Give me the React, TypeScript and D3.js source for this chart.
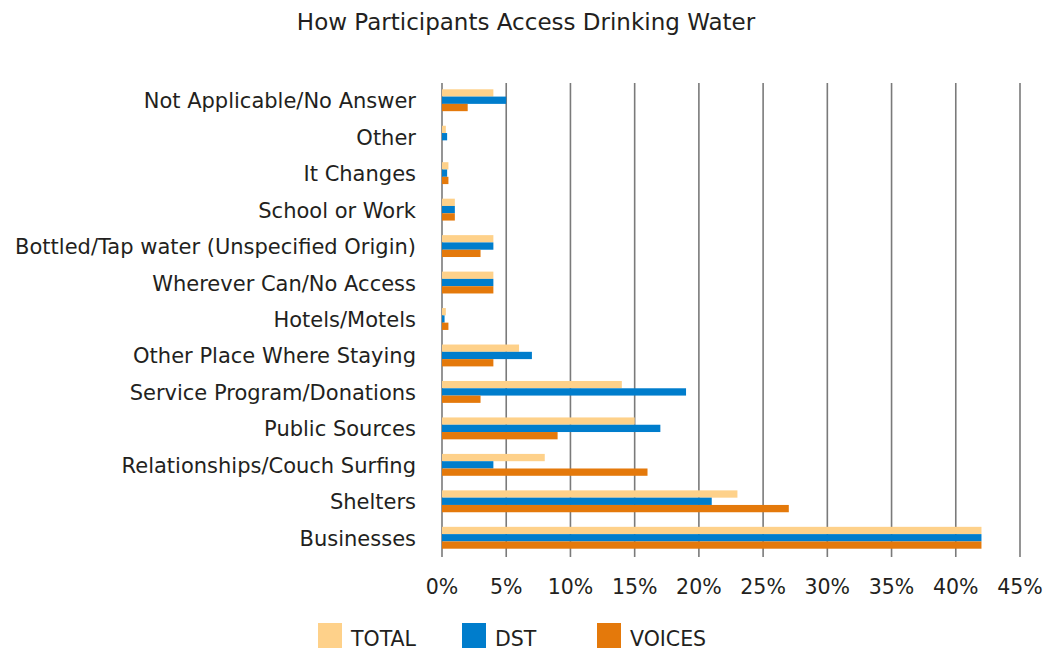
import React from "react";
import * as d3 from "d3";

const categories = [
  "Not Applicable/No Answer",
  "Other",
  "It Changes",
  "School or Work",
  "Bottled/Tap water (Unspecified Origin)",
  "Wherever Can/No Access",
  "Hotels/Motels",
  "Other Place Where Staying",
  "Service Program/Donations",
  "Public Sources",
  "Relationships/Couch Surfing",
  "Shelters",
  "Businesses",
];
const seriesNames = ["TOTAL", "DST", "VOICES"];
const totalValues = [4, 0.3, 0.5, 1, 4, 4, 0.3, 6, 14, 15, 8, 23, 42];
const dstValues = [5, 0.4, 0.4, 1, 4, 4, 0.2, 7, 19, 17, 4, 21, 42];
const voicesValues = [2, 0, 0.5, 1, 3, 4, 0.5, 4, 3, 9, 16, 27, 42];
const tickValues = [0, 5, 10, 15, 20, 25, 30, 35, 40, 45];
const colors = ["#FED18A", "#007DCC", "#E4790B"];

const W = 1045;
const H = 651;
const FONT = "'DejaVu Sans', sans-serif";

export default function App() {
  const seriesValues = [totalValues, dstValues, voicesValues];
  const x = d3.scaleLinear().domain([0, 45]).range([442, 1020]);
  const y = d3.scaleBand<string>().domain(categories).range([82, 556]).paddingInner(0.4).paddingOuter(0.2);
  const sub = d3.scaleBand<string>().domain(seriesNames).range([0, y.bandwidth()]);
  const legendX = [318, 462, 597];

  return (
    <svg width={W} height={H} style={{ position: "absolute", left: 0, top: 0, background: "#fff" }} fontFamily={FONT}>
      <text x={526} y={30} textAnchor="middle" fontSize={23} fill="#231f20">
        How Participants Access Drinking Water
      </text>
      {tickValues.map((t) => (
        <line key={"g" + t} x1={x(t)} x2={x(t)} y1={83} y2={557} stroke="#7a7a7a" strokeWidth={1.6} />
      ))}
      {categories.map((c, i) => (
        <g key={c}>
          {seriesNames.map((s, j) => (
            <rect
              key={s}
              x={x(0)}
              y={(y(c) as number) + (sub(s) as number)}
              width={x(seriesValues[j][i]) - x(0)}
              height={sub.bandwidth()}
              fill={colors[j]}
            />
          ))}
          <text x={416} y={(y(c) as number) + y.bandwidth() / 2 + 8} textAnchor="end" fontSize={21} fill="#231f20">
            {c}
          </text>
        </g>
      ))}
      {tickValues.map((t) => (
        <text key={"t" + t} x={x(t)} y={594} textAnchor="middle" fontSize={20.5} fill="#231f20">
          {t + "%"}
        </text>
      ))}
      {seriesNames.map((s, j) => (
        <g key={"l" + s}>
          <rect x={legendX[j]} y={623} width={24} height={25} fill={colors[j]} />
          <text x={legendX[j] + 33} y={646} fontSize={20.5} fill="#231f20">
            {s}
          </text>
        </g>
      ))}
    </svg>
  );
}
